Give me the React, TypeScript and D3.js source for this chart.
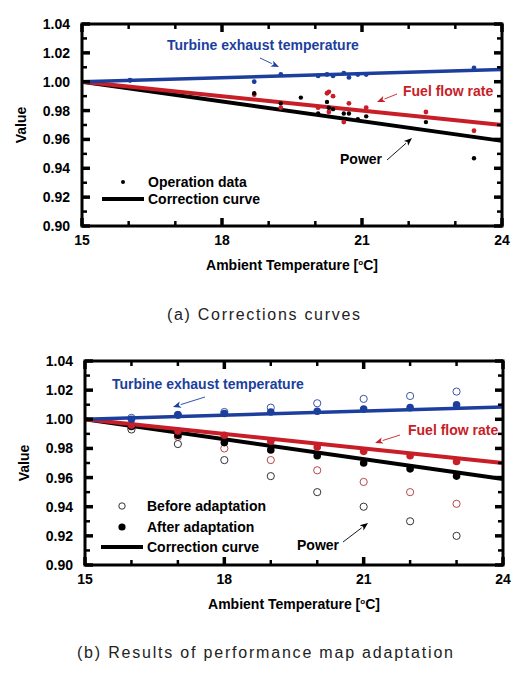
import * as d3 from 'd3';

// Correction curves (linear in ambient temperature, normalised at 15 °C)
const CURVE_T = [15, 24];
const CURVE_TURBINE = [1.0, 1.0085];
const CURVE_FUEL = [1.0, 0.97];
const CURVE_POWER = [1.0, 0.959];

// Operation data
const OP_TURBINE_T = [16.03, 18.69, 19.26, 20.06, 20.25, 20.38, 20.61, 20.72, 20.91, 21.09, 23.4];
const OP_TURBINE_V = [1.001, 1.0, 1.005, 1.004, 1.005, 1.004, 1.006, 1.003, 1.005, 1.005, 1.0095];
const OP_FUEL_T = [18.69, 19.26, 20.06, 20.25, 20.29, 20.38, 20.29, 20.61, 20.72, 21.09, 22.37, 23.4];
const OP_FUEL_V = [0.991, 0.982, 0.982, 0.992, 0.993, 0.99, 0.979, 0.972, 0.985, 0.982, 0.979, 0.966];
const OP_POWER_T = [16.03, 18.69, 19.26, 19.69, 20.06, 20.25, 20.29, 20.38, 20.61, 20.72, 20.91, 21.09, 22.37, 23.4];
const OP_POWER_V = [1.001, 0.992, 0.985, 0.989, 0.978, 0.986, 0.982, 0.981, 0.978, 0.978, 0.974, 0.976, 0.972, 0.947];

// Performance map adaptation results
const ADAPT_T = [16, 17, 18, 19, 20, 21, 22, 23];
const BEFORE_TURBINE = [1.001, 1.003, 1.005, 1.008, 1.011, 1.014, 1.016, 1.019];
const AFTER_TURBINE = [1.0, 1.003, 1.004, 1.005, 1.0055, 1.007, 1.008, 1.01];
const BEFORE_FUEL = [0.994, 0.988, 0.98, 0.972, 0.965, 0.957, 0.95, 0.942];
const AFTER_FUEL = [0.996, 0.992, 0.989, 0.985, 0.981, 0.978, 0.975, 0.971];
const BEFORE_POWER = [0.993, 0.983, 0.972, 0.961, 0.95, 0.94, 0.93, 0.92];
const AFTER_POWER = [0.995, 0.989, 0.984, 0.979, 0.975, 0.97, 0.966, 0.961];

const X_TICKS = d3.range(15, 25, 1);
const X_LABELS = [15, 18, 21, 24];
const Y_TICKS = d3.range(0, 15).map((i) => +(0.9 + i * 0.01).toFixed(2));
const Y_LABELS = [0.9, 0.92, 0.94, 0.96, 0.98, 1.0, 1.02, 1.04];

const BLUE = '#1c3f9e';
const RED = '#c81e28';
const BLACK = '#000';
const FONT = '"Liberation Sans", Arial, sans-serif';
const FS = 14;

type Frame = { left: number; top: number; width: number; height: number };

const zip = (t: number[], v: number[]) => t.map((x, i) => [x, v[i]] as [number, number]);

function Arrow({ x1, y1, x2, y2, color }: { x1: number; y1: number; x2: number; y2: number; color: string }) {
  const a = Math.atan2(y2 - y1, x2 - x1);
  const len = 8;
  const w = 3.2;
  const bx = x2 - len * Math.cos(a);
  const by = y2 - len * Math.sin(a);
  const p1 = [bx + w * Math.sin(a), by - w * Math.cos(a)];
  const p2 = [bx - w * Math.sin(a), by + w * Math.cos(a)];
  return (
    <g>
      <line x1={x1} y1={y1} x2={bx} y2={by} stroke={color} strokeWidth={0.9} />
      <path d={`M${x2},${y2}L${p1[0]},${p1[1]}L${bx + 2 * Math.cos(a)},${by + 2 * Math.sin(a)}L${p2[0]},${p2[1]}Z`} fill={color} />
    </g>
  );
}

function Axes({ f, x, y }: { f: Frame; x: d3.ScaleLinear<number, number>; y: d3.ScaleLinear<number, number> }) {
  const bottom = f.top + f.height;
  const right = f.left + f.width;
  return (
    <g>
      {X_TICKS.map((t) => {
        const major = X_LABELS.includes(t);
        const l = major ? 8 : 5;
        const sw = major ? 3.5 : 2.5;
        return (
          <g key={`x${t}`}>
            <line x1={x(t)} x2={x(t)} y1={bottom} y2={bottom - l} stroke={BLACK} strokeWidth={sw} />
            <line x1={x(t)} x2={x(t)} y1={f.top} y2={f.top + l} stroke={BLACK} strokeWidth={sw} />
          </g>
        );
      })}
      {Y_TICKS.map((v) => {
        const major = Math.round(v * 100) % 2 === 0;
        const l = major ? 8 : 5;
        const sw = major ? 3.5 : 2.5;
        return (
          <g key={`y${v}`}>
            <line x1={f.left} x2={f.left + l} y1={y(v)} y2={y(v)} stroke={BLACK} strokeWidth={sw} />
            <line x1={right} x2={right - l} y1={y(v)} y2={y(v)} stroke={BLACK} strokeWidth={sw} />
          </g>
        );
      })}
      <rect x={f.left} y={f.top} width={f.width} height={f.height} fill="none" stroke={BLACK} strokeWidth={3} />
      {X_LABELS.map((t) => (
        <text key={`xl${t}`} x={x(t)} y={bottom + 19} textAnchor="middle" fontSize={FS} fontWeight="bold" fontFamily={FONT}>
          {t}
        </text>
      ))}
      {Y_LABELS.map((v) => (
        <text key={`yl${v}`} x={f.left - 12} y={y(v) + 5} textAnchor="end" fontSize={FS} fontWeight="bold" fontFamily={FONT}>
          {v.toFixed(2)}
        </text>
      ))}
      <text x={(f.left + right) / 2} y={bottom + 44} textAnchor="middle" fontSize={FS} fontWeight="bold" fontFamily={FONT}>
        Ambient Temperature [
        <tspan fontSize={8} dy={-5}>o</tspan>
        <tspan dy={5}>C]</tspan>
      </text>
      <text
        transform={`translate(${f.left - 56},${f.top + f.height / 2}) rotate(-90)`}
        textAnchor="middle"
        fontSize={FS}
        fontWeight="bold"
        fontFamily={FONT}
      >
        Value
      </text>
    </g>
  );
}

function CorrectionLines({ x, y }: { x: d3.ScaleLinear<number, number>; y: d3.ScaleLinear<number, number> }) {
  const line = d3
    .line<[number, number]>()
    .x((d) => x(d[0]))
    .y((d) => y(d[1]));
  return (
    <g fill="none">
      <path d={line(zip(CURVE_T, CURVE_POWER)) || ''} stroke={BLACK} strokeWidth={4} />
      <path d={line(zip(CURVE_T, CURVE_FUEL)) || ''} stroke={RED} strokeWidth={4} />
      <path d={line(zip(CURVE_T, CURVE_TURBINE)) || ''} stroke={BLUE} strokeWidth={3.5} />
    </g>
  );
}

function CorrectionChart({ f }: { f: Frame }) {
  const x = d3.scaleLinear().domain([15, 24]).range([f.left, f.left + f.width]);
  const y = d3.scaleLinear().domain([0.9, 1.04]).range([f.top + f.height, f.top]);
  const dots = (t: number[], v: number[], color: string, r: number) =>
    zip(t, v).map((d, i) => <circle key={`${color}${i}`} cx={x(d[0])} cy={y(d[1])} r={r} fill={color} />);
  const L = f.left;
  const T = f.top;
  return (
    <g>
      <CorrectionLines x={x} y={y} />
      {dots(OP_FUEL_T, OP_FUEL_V, RED, 2.4)}
      {dots(OP_POWER_T, OP_POWER_V, BLACK, 2.2)}
      {dots(OP_TURBINE_T, OP_TURBINE_V, BLUE, 2.4)}
      <text x={L + 85} y={T + 26} fontSize={FS} fontWeight="bold" fill={BLUE} fontFamily={FONT}>
        Turbine exhaust temperature
      </text>
      <Arrow x1={L + 178} y1={T + 34} x2={L + 197} y2={T + 43} color={BLUE} />
      <text x={L + 321} y={T + 72} fontSize={FS} fontWeight="bold" fill={RED} fontFamily={FONT}>
        Fuel flow rate
      </text>
      <Arrow x1={L + 315} y1={T + 70} x2={L + 295} y2={T + 78} color={RED} />
      <text x={L + 258} y={T + 140} fontSize={FS} fontWeight="bold" fill={BLACK} fontFamily={FONT}>
        Power
      </text>
      <Arrow x1={L + 305} y1={T + 136} x2={L + 330} y2={T + 114} color={BLACK} />
      <circle cx={L + 41} cy={T + 158} r={2} fill={BLACK} />
      <text x={L + 66} y={T + 163} fontSize={FS} fontWeight="bold" fontFamily={FONT}>
        Operation data
      </text>
      <line x1={L + 20} x2={L + 62} y1={T + 175} y2={T + 175} stroke={BLACK} strokeWidth={4} />
      <text x={L + 66} y={T + 180} fontSize={FS} fontWeight="bold" fontFamily={FONT}>
        Correction curve
      </text>
      <Axes f={f} x={x} y={y} />
    </g>
  );
}

function AdaptationChart({ f }: { f: Frame }) {
  const x = d3.scaleLinear().domain([15, 24]).range([f.left, f.left + f.width]);
  const y = d3.scaleLinear().domain([0.9, 1.04]).range([f.top + f.height, f.top]);
  const open = (v: number[], color: string) =>
    zip(ADAPT_T, v).map((d, i) => (
      <circle key={`o${color}${i}`} cx={x(d[0])} cy={y(d[1])} r={3.6} fill="#fff" stroke={color} strokeWidth={1} />
    ));
  const filled = (v: number[], color: string) =>
    zip(ADAPT_T, v).map((d, i) => <circle key={`f${color}${i}`} cx={x(d[0])} cy={y(d[1])} r={3.8} fill={color} />);
  const L = f.left;
  const T = f.top;
  return (
    <g>
      {open(BEFORE_TURBINE, '#3a55a8')}
      {open(BEFORE_FUEL, '#b5484e')}
      {open(BEFORE_POWER, '#333')}
      <CorrectionLines x={x} y={y} />
      {filled(AFTER_POWER, BLACK)}
      {filled(AFTER_FUEL, RED)}
      {filled(AFTER_TURBINE, BLUE)}
      <text x={L + 27} y={T + 28} fontSize={FS} fontWeight="bold" fill={BLUE} fontFamily={FONT}>
        Turbine exhaust temperature
      </text>
      <Arrow x1={L + 120} y1={T + 36} x2={L + 88} y2={T + 46} color={BLUE} />
      <text x={L + 323} y={T + 74} fontSize={FS} fontWeight="bold" fill={RED} fontFamily={FONT}>
        Fuel flow rate
      </text>
      <Arrow x1={L + 315} y1={T + 74} x2={L + 290} y2={T + 82} color={RED} />
      <text x={L + 212} y={T + 189} fontSize={FS} fontWeight="bold" fill={BLACK} fontFamily={FONT}>
        Power
      </text>
      <Arrow x1={L + 258} y1={T + 181} x2={L + 283} y2={T + 162} color={BLACK} />
      <circle cx={L + 37} cy={T + 145} r={3.2} fill="#fff" stroke="#333" strokeWidth={1} />
      <text x={L + 62} y={T + 150} fontSize={FS} fontWeight="bold" fontFamily={FONT}>
        Before adaptation
      </text>
      <circle cx={L + 37} cy={T + 166} r={3.6} fill={BLACK} />
      <text x={L + 62} y={T + 171} fontSize={FS} fontWeight="bold" fontFamily={FONT}>
        After adaptation
      </text>
      <line x1={L + 16} x2={L + 58} y1={T + 186} y2={T + 186} stroke={BLACK} strokeWidth={4} />
      <text x={L + 62} y={T + 191} fontSize={FS} fontWeight="bold" fontFamily={FONT}>
        Correction curve
      </text>
      <Axes f={f} x={x} y={y} />
    </g>
  );
}

export default function App() {
  return (
    <svg width={532} height={674} style={{ position: 'absolute', left: 0, top: 0, background: '#fff' }}>
      <rect width={532} height={674} fill="#fff" />
      <CorrectionChart f={{ left: 82, top: 24, width: 420, height: 202 }} />
      <text x={167} y={320} fontSize={16} fill="#222" fontFamily={FONT} textLength={193} lengthAdjust="spacing">
        (a) Corrections curves
      </text>
      <AdaptationChart f={{ left: 85, top: 361, width: 418, height: 204 }} />
      <text x={77} y={658} fontSize={16} fill="#222" fontFamily={FONT} textLength={376} lengthAdjust="spacing">
        (b) Results of performance map adaptation
      </text>
    </svg>
  );
}
